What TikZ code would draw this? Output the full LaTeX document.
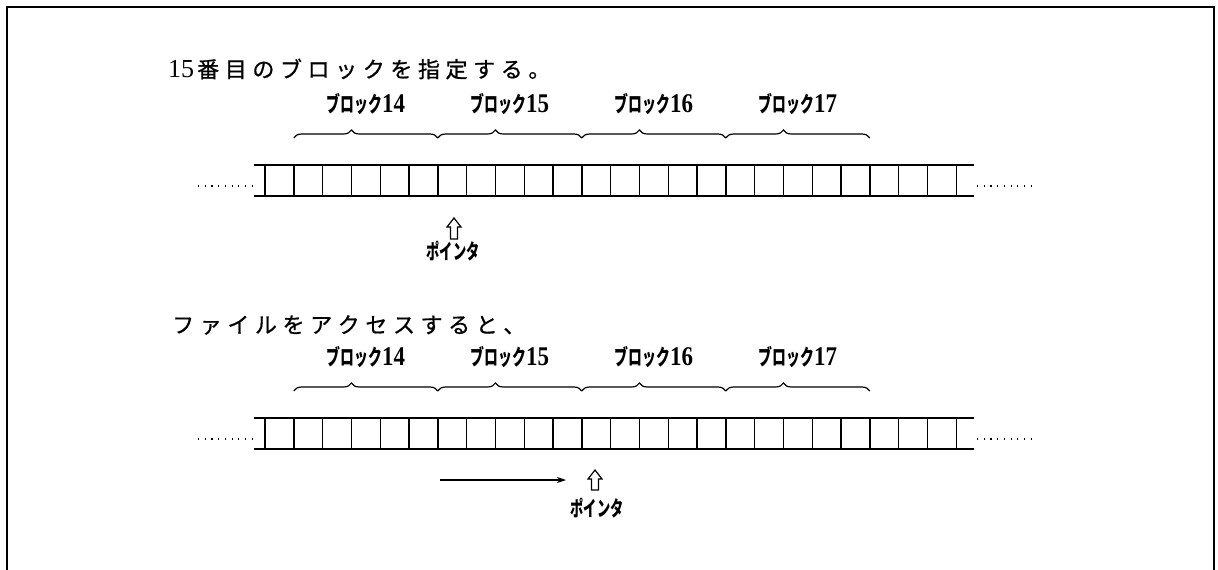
\documentclass[tikz,border=0pt]{standalone}
\usepackage{fontspec}
\newfontfamily\cjkt[FakeBold=0.8]{Noto Sans CJK JP}
\newfontfamily\cjkl[FakeStretch=0.63]{Noto Sans CJK JP}
\newfontfamily\digt{Liberation Serif}
\newfontfamily\digl[FakeStretch=0.85]{Liberation Serif}
\usetikzlibrary{decorations.pathreplacing,arrows.meta}
\def\tkern{5.6pt}
\def\spc#1{\ifx#1\relax\else#1\kern\tkern\expandafter\spc\fi}
\newcommand\ptrshape[3]{%
  \draw[ptrarrow] (#1,#2) -- ++(7,9) -- ++(-3.5,0) -- ++(0,#3-9) -- ++(-7,0) -- ++(0,9-#3) -- ++(-3.5,0) -- cycle;}
\begin{document}
\begin{tikzpicture}[x=1pt,y=-1pt,
  frame/.style={line width=1.6pt},
  cellline/.style={line width=1.4pt},
  dotline/.style={line width=1.2pt, dash pattern=on 1.2pt off 5.5pt},
  blockbrace/.style={line width=1.2pt, decorate, decoration={brace, amplitude=8pt, aspect=0.4}},
  title/.style={anchor=west, inner sep=0pt, font=\cjkt\fontsize{22}{22}\selectfont},
  blocklabel/.style={inner sep=0pt, font=\cjkl\bfseries\fontsize{22}{22}\selectfont},
  ptrlabel/.style={inner sep=0pt, font=\cjkl\bfseries\fontsize{21}{21}\selectfont},
  ptrarrow/.style={line width=1.2pt, fill=white, line join=miter},
  moveline/.style={line width=1.1pt, -{Stealth[length=9pt,width=6pt]}}
]
\useasboundingbox (0,0) rectangle (1218,570);
\fill[white] (0,0) rectangle (1218,570);
\draw[frame] (7,575) -- (7,7) -- (1214,7) -- (1214,575);

\node[title] (t1) at (168,69) {{\digt\fontsize{26}{26}\selectfont 15}\kern3pt\spc 番目のブロックを指定する。\relax};
\node[title] (t2) at (172,325) {\spc ファイルをアクセスすると、\relax};

\foreach \r/\oy in {1/0,2/253} {
  \draw[cellline] (254,{165+\oy}) -- (974,{165+\oy});
  \draw[cellline] (254,{196+\oy}) -- (974,{196+\oy});
  \foreach \k in {0,...,24}
    \draw[cellline] ({265+28.8*\k},{165+\oy}) -- ({265+28.8*\k},{196+\oy});
  \draw[dotline] (198,{186+\oy}) -- (253,{186+\oy});
  \draw[dotline] (977,{186+\oy}) -- (1032,{186+\oy});
  \foreach \b in {0,...,3} {
    \pgfmathtruncatemacro\n{14+\b}
    \draw[blockbrace] ({265+28.8*(1+5*\b)},{138+\oy}) -- ({265+28.8*(6+5*\b)},{138+\oy});
    \node[blocklabel] (lab\r-\b) at ({265+28.8*(3.5+5*\b)},{104+\oy}) {ブロック{\digl\fontsize{27}{27}\selectfont\n}};
  }
}

\ptrshape{454}{218}{21}
\node[ptrlabel] (ptr1) at (453,251) {ポインタ};

\coordinate (mv0) at (440,480);
\coordinate (mv1) at (566,480);
\draw[moveline] (mv0) -- (mv1);
\ptrshape{595}{470}{20}
\node[ptrlabel] (ptr2) at (597,508) {ポインタ};
\end{tikzpicture}
\end{document}
